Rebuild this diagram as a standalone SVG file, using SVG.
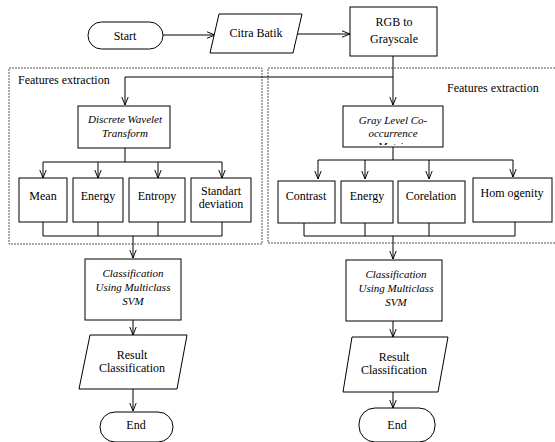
<svg xmlns="http://www.w3.org/2000/svg" width="555" height="442" viewBox="0 0 555 442" font-family="'Liberation Serif', 'DejaVu Serif', serif">
<style>
.b{fill:#fff;stroke:#000;stroke-width:1}
.c{fill:none;stroke:#000;stroke-width:1}
.d{fill:none;stroke:#555;stroke-width:1;stroke-dasharray:2,1}
text{font-family:'Liberation Serif','DejaVu Serif',serif;font-size:12px;fill:#000;text-anchor:middle}
.i{font-style:italic;font-size:11px}
.l{text-anchor:start}
</style>
<defs>
<marker id="a" markerUnits="userSpaceOnUse" viewBox="0 0 10 10" refX="10" refY="5" markerWidth="8" markerHeight="8" orient="auto">
<path d="M0,1 L10,5 L0,9" fill="none" stroke="#000" stroke-width="1.2"/>
</marker>
<clipPath id="gc"><rect x="343" y="106" width="100" height="39"/></clipPath>
</defs>
<rect width="555" height="442" fill="#fff"/>
<g id="containers">
<rect class="d" x="9" y="68" width="253" height="176"/>
<rect class="d" x="268" y="68" width="290" height="175"/>
<text class="l" x="18" y="84">Features extraction</text>
<text class="l" x="447" y="92">Features extraction</text>
</g>
<g id="connectors">
<line class="c" x1="163" y1="35" x2="215" y2="35" marker-end="url(#a)"/>
<line class="c" x1="295" y1="34" x2="350" y2="34" marker-end="url(#a)"/>
<path class="c" d="M393,56 V77 H125 V105" marker-end="url(#a)"/>
<path class="c" d="M393,77 V105" marker-end="url(#a)"/>
<path class="c" d="M125,148 V162 M43,162 H222"/>
<line class="c" x1="43" y1="162" x2="43" y2="178" marker-end="url(#a)"/>
<line class="c" x1="98" y1="162" x2="98" y2="178" marker-end="url(#a)"/>
<line class="c" x1="158" y1="162" x2="158" y2="178" marker-end="url(#a)"/>
<line class="c" x1="222" y1="162" x2="222" y2="178" marker-end="url(#a)"/>
<path class="c" d="M43,222 V236 H222 V222 M98,222 V236 M158,222 V236"/>
<line class="c" x1="133" y1="236" x2="133" y2="258" marker-end="url(#a)"/>
<line class="c" x1="133" y1="320" x2="133" y2="335" marker-end="url(#a)"/>
<line class="c" x1="133" y1="389" x2="133" y2="411" marker-end="url(#a)"/>
<path class="c" d="M393,147 V160 M318,160 H513"/>
<line class="c" x1="318" y1="160" x2="318" y2="179" marker-end="url(#a)"/>
<line class="c" x1="365" y1="160" x2="365" y2="179" marker-end="url(#a)"/>
<line class="c" x1="429" y1="160" x2="429" y2="179" marker-end="url(#a)"/>
<line class="c" x1="513" y1="160" x2="513" y2="177" marker-end="url(#a)"/>
<path class="c" d="M304,223 V236 H515 V222 M365,223 V236 M429,223 V236"/>
<line class="c" x1="393" y1="236" x2="393" y2="259" marker-end="url(#a)"/>
<line class="c" x1="393" y1="321" x2="393" y2="337" marker-end="url(#a)"/>
<line class="c" x1="393" y1="392" x2="393" y2="408" marker-end="url(#a)"/>
</g>
<g id="start"><rect class="b" x="88" y="22" width="75" height="27" rx="13.5"/><text x="125" y="40">Start</text></g>
<g id="citra"><polygon class="b" points="219,14 302,14 293,53 210,53"/><text x="256" y="37">Citra Batik</text></g>
<g id="rgb"><rect class="b" x="350" y="7" width="87" height="49"/><text x="394" y="26">RGB to</text><text x="394" y="43">Grayscale</text></g>
<g id="dwt"><rect class="b" x="78" y="106" width="92" height="42"/><text class="i" x="125" y="123">Discrete Wavelet</text><text class="i" x="125" y="137">Transform</text></g>
<g id="mean"><rect class="b" x="19" y="178" width="48" height="44"/><text x="43" y="200">Mean</text></g>
<g id="energy1"><rect class="b" x="73" y="178" width="50" height="44"/><text x="98" y="200">Energy</text></g>
<g id="entropy"><rect class="b" x="129" y="178" width="56" height="44"/><text x="157" y="200">Entropy</text></g>
<g id="std"><rect class="b" x="191" y="178" width="60" height="44"/><text x="221" y="195">Standart</text><text x="221" y="208">deviation</text></g>
<g id="glcm"><rect class="b" x="343" y="106" width="100" height="41"/><text class="i" x="393" y="124">Gray Level Co-</text><text class="i" x="393" y="137">occurrence</text><text class="i" x="393" y="150" clip-path="url(#gc)">Matrix</text></g>
<g id="contrast"><rect class="b" x="278" y="181" width="57" height="42"/><text x="306" y="200">Contrast</text></g>
<g id="energy2"><rect class="b" x="341" y="181" width="52" height="42"/><text x="367" y="200">Energy</text></g>
<g id="corelation"><rect class="b" x="398" y="181" width="67" height="42"/><text x="431" y="200">Corelation</text></g>
<g id="homogenity"><rect class="b" x="473" y="178" width="79" height="44"/><text x="512" y="197">Hom ogenity</text></g>
<g id="svm1"><rect class="b" x="85" y="259" width="96" height="61"/><text class="i" x="133" y="277">Classification</text><text class="i" x="133" y="291">Using Multiclass</text><text class="i" x="133" y="305">SVM</text></g>
<g id="result1"><polygon class="b" points="90,335 187,335 177,389 79,389"/><text x="132" y="359">Result</text><text x="132" y="372">Classification</text></g>
<g id="end1"><rect class="b" x="100" y="412" width="73" height="30" rx="15"/><text x="136" y="429">End</text></g>
<g id="svm2"><rect class="b" x="346" y="260" width="96" height="61"/><text class="i" x="396" y="278">Classification</text><text class="i" x="396" y="292">Using Multiclass</text><text class="i" x="396" y="306">SVM</text></g>
<g id="result2"><polygon class="b" points="352,337 448,337 438,392 343,392"/><text x="394" y="361">Result</text><text x="394" y="374">Classification</text></g>
<g id="end2"><rect class="b" x="359" y="408" width="76" height="34" rx="16"/><text x="397" y="429">End</text></g>
</svg>
